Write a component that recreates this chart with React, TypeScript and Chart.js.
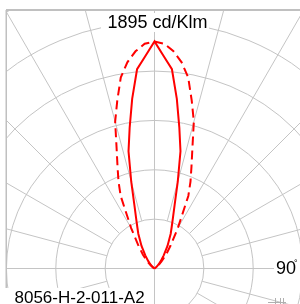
import React, { useEffect, useRef } from "react";
import { Chart, registerables } from "chart.js";

Chart.register(...registerables);

// ---- data (angle from beam axis in degrees, intensity in cd/klm) ----
const ANGLES = [0, 2.5, 5, 7.5, 10, 12.5, 15, 17.5, 20, 22.5, 25, 30, 35, 40, 45, 50, 60, 70, 80, 90];
const SOLID_CDKLM = [1895, 1773, 1670, 1428, 1194, 1002, 750, 560, 450, 375, 320, 217, 134, 83, 50, 25, 8, 0, 0, 0];
const DASHED_CDKLM = [1895, 1878, 1820, 1736, 1620, 1436, 1269, 1052, 902, 785, 668, 390, 234, 150, 83, 42, 8, 0, 0, 0];
const PEAK_LABEL = "1895 cd/Klm";
const ANGLE_LABEL = "90";
const CODE_LABEL = "8056-H-2-011-A2";
const RING_STEP = 412; // cd/klm per ring
const SPOKE_STEP_DEG = 15;

// ---- layout ----
const W = 300;
const H = 304;
const CX = 154.5;
const CY = 268.5;
const UNITS_PER_PX = 1895 / 227;
const FRAME_LEFT = 6;
const FRAME_TOP = 10;
const GRID_COLOR = "#c4c4c4";
const FONT = '"Liberation Sans", Arial, sans-serif';

function toPoints(angles: number[], values: number[]) {
  const pts: { x: number; y: number }[] = [];
  for (let i = angles.length - 1; i >= 1; i--) {
    const t = (-angles[i] * Math.PI) / 180;
    pts.push({ x: values[i] * Math.sin(t), y: values[i] * Math.cos(t) });
  }
  for (let i = 0; i < angles.length; i++) {
    const t = (angles[i] * Math.PI) / 180;
    pts.push({ x: values[i] * Math.sin(t), y: values[i] * Math.cos(t) });
  }
  return pts;
}

const polarGrid = {
  id: "polarGrid",
  beforeDatasetsDraw(chart: any) {
    const { ctx, scales } = chart;
    const x = scales.x;
    const y = scales.y;
    const cx = x.getPixelForValue(0);
    const cy = y.getPixelForValue(0);
    const ring = x.getPixelForValue(RING_STEP) - cx;
    ctx.save();
    ctx.fillStyle = "#ffffff";
    ctx.fillRect(0, 0, W, H);
    ctx.beginPath();
    ctx.rect(FRAME_LEFT, FRAME_TOP, W - FRAME_LEFT, H - FRAME_TOP);
    ctx.clip();
    ctx.strokeStyle = GRID_COLOR;
    ctx.lineWidth = 1;
    for (let i = 1; i <= 9; i++) {
      ctx.beginPath();
      ctx.arc(cx, cy, ring * i, 0, Math.PI * 2);
      ctx.stroke();
    }
    for (let a = 0; a < 360; a += SPOKE_STEP_DEG) {
      const t = (a * Math.PI) / 180;
      const r0 = a % 90 === 0 ? 0 : ring;
      const dx = Math.sin(t);
      const dy = -Math.cos(t);
      ctx.beginPath();
      ctx.moveTo(cx + dx * r0, cy + dy * r0);
      ctx.lineTo(cx + dx * 1000, cy + dy * 1000);
      ctx.stroke();
    }
    ctx.restore();
  },
  afterDraw(chart: any) {
    const { ctx } = chart;
    ctx.save();
    // frame
    ctx.fillStyle = "#c0c0c0";
    ctx.fillRect(FRAME_LEFT, FRAME_TOP - 1, W - FRAME_LEFT, 2);
    ctx.fillRect(FRAME_LEFT - 0.5, FRAME_TOP, 1.5, H - FRAME_TOP);

    // small marks bottom right
    ctx.strokeStyle = "#b0b0b0";
    ctx.lineWidth = 1;
    ctx.beginPath();
    ctx.moveTo(268, 302.5);
    ctx.lineTo(286, 302.5);
    [275.5, 280.5, 283.5].forEach((mx) => {
      ctx.moveTo(mx, 298);
      ctx.lineTo(mx, 304);
    });
    ctx.stroke();

    ctx.fillStyle = "#ffffff";
    ctx.fillRect(101, 13, 108, 19);
    ctx.fillRect(274, 258, 26, 18);
    ctx.fillRect(0, 288, 150, 16);

    ctx.fillStyle = "#000000";
    ctx.textBaseline = "alphabetic";
    ctx.font = `18px ${FONT}`;
    ctx.textAlign = "center";
    ctx.fillText(PEAK_LABEL, 157.5, 28);
    ctx.textAlign = "left";
    ctx.fillText(ANGLE_LABEL, 276, 274);
    ctx.font = `9px ${FONT}`;
    ctx.fillText("°", 294, 266);
    ctx.font = `17px ${FONT}`;
    ctx.fillText(CODE_LABEL, 14.5, 303);
    ctx.restore();
  },
};

export default function App() {
  const ref = useRef<HTMLCanvasElement | null>(null);
  useEffect(() => {
    if (!ref.current) return;
    const chart = new Chart(ref.current, {
      type: "scatter",
      data: {
        datasets: [
          {
            data: toPoints(ANGLES, DASHED_CDKLM),
            showLine: true,
            borderColor: "#ff0000",
            borderWidth: 2,
            borderDash: [9, 5],
            pointRadius: 0,
            tension: 0,
            fill: false,
          },
          {
            data: toPoints(ANGLES, SOLID_CDKLM),
            showLine: true,
            borderColor: "#ff0000",
            borderWidth: 2,
            pointRadius: 0,
            tension: 0,
            fill: false,
          },
        ],
      },
      options: {
        responsive: false,
        animation: false,
        devicePixelRatio: 1,
        layout: { padding: 0 },
        plugins: { legend: { display: false }, tooltip: { enabled: false } },
        scales: {
          x: { type: "linear", display: false, min: -CX * UNITS_PER_PX, max: (W - CX) * UNITS_PER_PX },
          y: { type: "linear", display: false, min: -(H - CY) * UNITS_PER_PX, max: CY * UNITS_PER_PX },
        },
      },
      plugins: [polarGrid],
    });
    return () => chart.destroy();
  }, []);
  return (
    <div style={{ position: "fixed", left: 0, top: 0, width: W, height: H }}>
      <canvas ref={ref} width={W} height={H} style={{ display: "block" }} />
    </div>
  );
}
